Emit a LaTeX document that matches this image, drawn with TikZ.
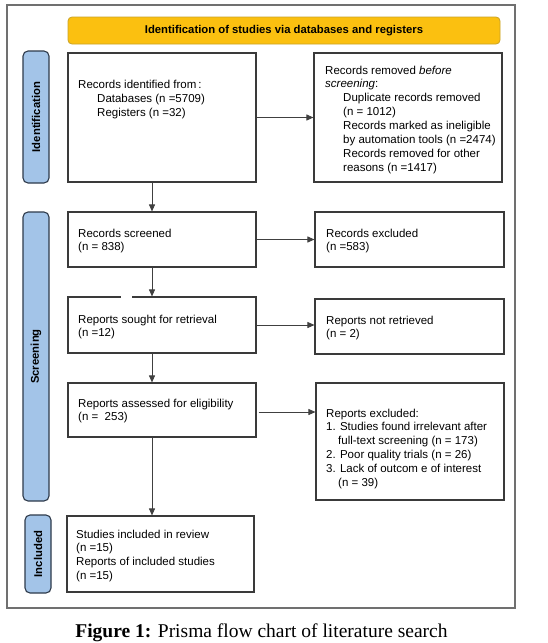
\documentclass[tikz,border=0pt]{standalone}
\usepackage{fontspec}
\setmainfont{Liberation Sans}
\newfontfamily\capfont{Liberation Serif}
\usetikzlibrary{arrows.meta,calc}
\definecolor{hdrfill}{HTML}{FBC010}
\definecolor{hdrline}{HTML}{C9A227}
\definecolor{sidefill}{HTML}{A3C4E8}
\definecolor{sideline}{HTML}{2E3A4A}
\definecolor{boxline}{HTML}{3A3A3A}
\definecolor{frameline}{HTML}{707070}
\definecolor{arrline}{HTML}{404040}
\begin{document}
\begin{tikzpicture}[x=1pt,y=-1pt,
  box/.style={draw=boxline, line width=1.1pt, fill=white, inner sep=0pt},
  txt/.style={anchor=north west, inner sep=0pt, align=left, font=\fontsize{11.5}{13.9}\selectfont},
  side/.style={draw=sideline, fill=sidefill, line width=1.1pt, rounded corners=5pt, rotate=90, inner sep=0pt, font=\fontsize{11.3}{13}\selectfont\bfseries},
  hdr/.style={draw=hdrline, fill=hdrfill, line width=0.8pt, rounded corners=4pt, inner sep=0pt, font=\fontsize{11.3}{13}\selectfont\bfseries},
  arr/.style={draw=arrline, line width=0.8pt, -{Triangle[length=7pt,width=6pt]}}
]
\useasboundingbox (0,0) rectangle (547,643);
\fill[white] (0,0) rectangle (547,643);
% outer frame
\draw[frameline, line width=1.2pt] (7,5) rectangle (515,608);

% header
\node[hdr, minimum width=432, minimum height=27] (hd) at (284,30.5) {Identification of studies via databases and registers};

% side bars
\node[side, minimum width=132, minimum height=26] (s1) at (36,117) {Identification};
\node[side, minimum width=289, minimum height=26] (s2) at (36,356.5) {Screening};
\node[side, minimum width=78, minimum height=26] (s3) at (38,554) {Included};

% boxes
\node[box, minimum width=188, minimum height=129] (b1) at (162,117.5) {};
\node[box, minimum width=188, minimum height=129] (b2) at (408,117.5) {};
\node[box, minimum width=188, minimum height=55] (scr) at (162,239.5) {};
\node[box, minimum width=189, minimum height=55] (exc) at (409.5,239.5) {};
\node[box, minimum width=188, minimum height=56] (sou) at (162,325) {};
\node[box, minimum width=189, minimum height=55] (nre) at (409.5,326.5) {};
\node[box, minimum width=188, minimum height=54] (ass) at (162,410) {};
\node[box, minimum width=188, minimum height=117] (ex2) at (410,441.5) {};
\node[box, minimum width=187, minimum height=76] (inc) at (160.5,554) {};

% small gap in top border of retrieval box
\draw[white, line width=2pt] (121,297) -- (132,297);

% texts
\node[txt] (t1) at (78,80) {Records identified from\,:\\\hspace*{19pt}Databases (n =5709)\\\hspace*{19pt}Registers (n =32)};
\node[txt] (t2) at (325,65.5) {Records removed \textit{before}\\\textit{screening}:\\\hspace*{18pt}Duplicate records removed\\\hspace*{18pt}(n = 1012)\\\hspace*{18pt}Records marked as ineligible\\\hspace*{18pt}by automation tools (n =2474)\\\hspace*{18pt}Records removed for other\\\hspace*{18pt}reasons (n =1417)};
\node[txt] (t3) at (78,228.5) {Records screened\\(n = 838)};
\node[txt] (t4) at (326,228.5) {Records excluded\\(n =583)};
\node[txt] (t5) at (78,314.5) {Reports sought for retrieval\\(n =12)};
\node[txt] (t6) at (326,315.5) {Reports not retrieved\\(n = 2)};
\node[txt] (t7) at (78,398.5) {Reports assessed for eligibility\\(n =\ \ 253)};
\node[txt] (t8) at (326,408.5) {Reports excluded:\\1. Studies found irrelevant after\\\hspace*{12pt}full-text screening (n = 173)\\2. Poor quality trials (n = 26)\\3. Lack of outcom e of interest\\\hspace*{12pt}(n = 39)};
\node[txt] (t9) at (76,529.5) {Studies included in review\\(n =15)\\Reports of included studies\\(n =15)};

% connectors
\coordinate (vx) at (152,0);
\draw[arr] (b1.south -| vx) -- (scr.north -| vx);
\draw[arr] (scr.south -| vx) -- (sou.north -| vx);
\draw[arr] (sou.south -| vx) -- (ass.north -| vx);
\draw[arr] (ass.south -| vx) -- (inc.north -| vx);
\draw[arr] (b1.east) -- (b1.east -| b2.west);
\draw[arr] (scr.east) -- (scr.east -| exc.west);
\draw[arr] (sou.east) -- (sou.east -| nre.west);
\draw[arr] ($(ass.east)+(2,2)$) -- ($(ass.east -| ex2.west)+(0,2)$);

% caption
\node[anchor=base, inner sep=0pt, font=\capfont\fontsize{19.5}{22}\selectfont] (cap) at (261.5,637) {\textbf{Figure 1:} Prisma flow chart of literature search};
\end{tikzpicture}
\end{document}
